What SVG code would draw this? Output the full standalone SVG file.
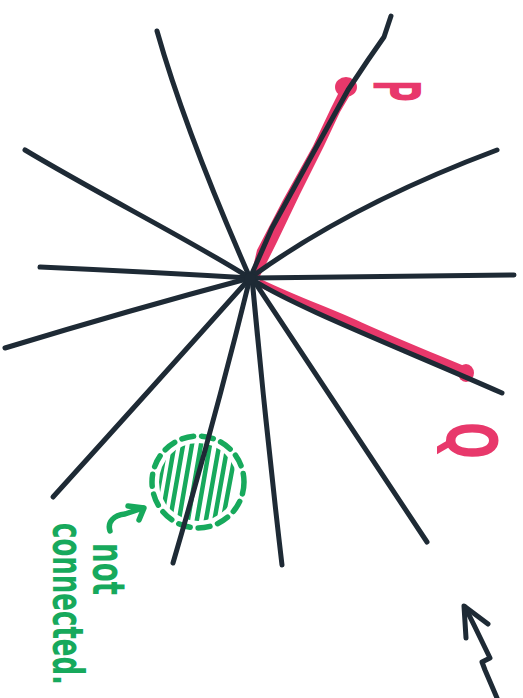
<svg xmlns="http://www.w3.org/2000/svg" width="523" height="698" viewBox="0 0 523 698">
<style>
.ray{fill:none;stroke:#1e2a35;stroke-width:5;stroke-linecap:round;stroke-linejoin:round}
.red{fill:#e8386b;stroke:none}
.redline{fill:none;stroke:#e8386b;stroke-linecap:round;stroke-linejoin:round}
.grn{fill:none;stroke:#17a95c;stroke-width:5.5;stroke-linecap:round;stroke-linejoin:round}
.hatch{fill:none;stroke:#17a95c;stroke-width:4.5;stroke-linecap:round}
.lbl{font-family:"DejaVu Sans","Liberation Sans",sans-serif;font-weight:bold}
</style>
<defs>
<clipPath id="blobclip"><circle cx="198" cy="482" r="39"/></clipPath>
</defs>
<rect width="523" height="698" fill="#ffffff"/>

<g id="highlight-P">
<path class="red" d="M251,276 L257,250 L283,200 L313,146 L331,108 L339,92 L350,95 L340,112 L324,146 L300,194 L277,242 L258,280 Z"/>
<ellipse class="red" cx="346" cy="87" rx="11" ry="10"/>
</g>
<g id="highlight-Q">
<path class="redline" stroke-width="8" d="M262,284 C300,302 330,312 360,326 C400,344 440,360 466,371"/>
<ellipse class="red" cx="466" cy="373" rx="8" ry="9"/>
</g>

<g id="not-connected-blob">
<circle class="grn" cx="198" cy="482" r="46" stroke-dasharray="12 8"/>
<g clip-path="url(#blobclip)">
<path class="hatch" d="M167,440 L153,520 M176,436 L160,528 M185,434 L168,531 M194,433 L177,531 M203,433 L186,531 M212,433 L195,531 M221,435 L204,531 M229,438 L213,528 M237,444 L222,524"/>
</g>
</g>

<g id="rays">
<path class="ray" d="M157,31 Q185,130 250,278"/>
<path class="ray" d="M391,16 L384,37 L368,60 L348,90 L312,155 L272,228 L250,278"/>
<path class="ray" d="M25,150 C100,195 190,240 250,278"/>
<path class="ray" d="M497,150 Q350,205 250,278"/>
<path class="ray" d="M40,267 Q150,272 250,278"/>
<path class="ray" d="M250,278 Q380,276 514,275"/>
<path class="ray" d="M5,348 Q130,310 250,278"/>
<path class="ray" d="M250,278 C290,305 400,348 502,393"/>
<path class="ray" d="M250,278 Q150,390 53,497"/>
<path class="ray" d="M250,278 Q215,420 173,563"/>
<path class="ray" d="M252,278 Q265,420 282,565"/>
<path class="ray" d="M252,278 L427,542"/>
<circle cx="250" cy="279" r="6" fill="#1e2a35"/>
</g>

<g id="label-P">
<text class="lbl" fill="#e8386b" font-size="66" transform="translate(373,80) rotate(90) scale(0.45,1)">P</text>
</g>
<g id="label-Q">
<text class="lbl" fill="#e8386b" font-size="70" transform="translate(447,422) rotate(90) scale(0.62,1)">Q</text>
</g>

<g id="not-connected-label">
<path class="grn" d="M110,531 C107,522 114,515 125,514 L143,508"/>
<path class="grn" d="M128,506 L144,508 L139,520"/>
<text class="lbl" fill="#17a95c" font-size="44" textLength="52" lengthAdjust="spacingAndGlyphs" transform="translate(93,543) rotate(90)">not</text>
<text class="lbl" fill="#17a95c" font-size="42" textLength="162" lengthAdjust="spacingAndGlyphs" transform="translate(53,523) rotate(90)">connected.</text>
</g>

<g id="corner-arrow">
<path class="ray" stroke-width="6" d="M497,698 L485,670 L482,662 L490,658 L474,625 L465,607"/>
<path class="ray" stroke-width="6" d="M466,638 L464,606 L488,624"/>
</g>
</svg>
